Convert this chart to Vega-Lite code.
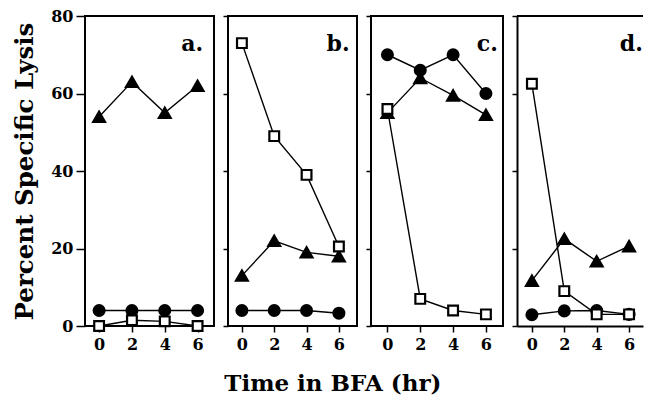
{
  "$schema": "https://vega.github.io/schema/vega-lite/v6.json",
  "padding": {"left": 11, "top": 7, "right": 0, "bottom": 5},
  "background": "white",
  "title": {"text": "Time in BFA (hr)", "orient": "bottom", "anchor": "middle", "font": "DejaVu Serif", "fontSize": 23, "fontWeight": "bold", "color": "black", "offset": 20, "dx": 5},
  "datasets": {
    "lysis": [
      {"panel": "a", "series": "tri", "t": 0, "v": 54}, {"panel": "a", "series": "tri", "t": 2, "v": 63}, {"panel": "a", "series": "tri", "t": 4, "v": 55}, {"panel": "a", "series": "tri", "t": 6, "v": 62},
      {"panel": "a", "series": "circ", "t": 0, "v": 4}, {"panel": "a", "series": "circ", "t": 2, "v": 4}, {"panel": "a", "series": "circ", "t": 4, "v": 4}, {"panel": "a", "series": "circ", "t": 6, "v": 4},
      {"panel": "a", "series": "sq", "t": 0, "v": 0}, {"panel": "a", "series": "sq", "t": 2, "v": 1.5}, {"panel": "a", "series": "sq", "t": 4, "v": 1.2}, {"panel": "a", "series": "sq", "t": 6, "v": 0},
      {"panel": "b", "series": "tri", "t": 0, "v": 13}, {"panel": "b", "series": "tri", "t": 2, "v": 22}, {"panel": "b", "series": "tri", "t": 4, "v": 19}, {"panel": "b", "series": "tri", "t": 6, "v": 18},
      {"panel": "b", "series": "circ", "t": 0, "v": 4}, {"panel": "b", "series": "circ", "t": 2, "v": 4}, {"panel": "b", "series": "circ", "t": 4, "v": 4}, {"panel": "b", "series": "circ", "t": 6, "v": 3.3},
      {"panel": "b", "series": "sq", "t": 0, "v": 73}, {"panel": "b", "series": "sq", "t": 2, "v": 49}, {"panel": "b", "series": "sq", "t": 4, "v": 39}, {"panel": "b", "series": "sq", "t": 6, "v": 20.5},
      {"panel": "c", "series": "tri", "t": 0, "v": 55}, {"panel": "c", "series": "tri", "t": 2, "v": 64}, {"panel": "c", "series": "tri", "t": 4, "v": 59.5}, {"panel": "c", "series": "tri", "t": 6, "v": 54.5},
      {"panel": "c", "series": "circ", "t": 0, "v": 70}, {"panel": "c", "series": "circ", "t": 2, "v": 66}, {"panel": "c", "series": "circ", "t": 4, "v": 70}, {"panel": "c", "series": "circ", "t": 6, "v": 60},
      {"panel": "c", "series": "sq", "t": 0, "v": 56}, {"panel": "c", "series": "sq", "t": 2, "v": 7}, {"panel": "c", "series": "sq", "t": 4, "v": 4}, {"panel": "c", "series": "sq", "t": 6, "v": 3},
      {"panel": "d", "series": "tri", "t": 0, "v": 11.7}, {"panel": "d", "series": "tri", "t": 2, "v": 22.5}, {"panel": "d", "series": "tri", "t": 4, "v": 16.7}, {"panel": "d", "series": "tri", "t": 6, "v": 20.6},
      {"panel": "d", "series": "circ", "t": 0, "v": 2.9}, {"panel": "d", "series": "circ", "t": 2, "v": 3.9}, {"panel": "d", "series": "circ", "t": 4, "v": 4}, {"panel": "d", "series": "circ", "t": 6, "v": 3},
      {"panel": "d", "series": "sq", "t": 0, "v": 62.5}, {"panel": "d", "series": "sq", "t": 2, "v": 9}, {"panel": "d", "series": "sq", "t": 4, "v": 3}, {"panel": "d", "series": "sq", "t": 6, "v": 3}
    ]
  },
  "spacing": 14,
  "bounds": "flush",
  "hconcat": [
    {
      "width": 129, "height": 310,
      "layer": [
        {"data": {"name": "lysis"}, "transform": [{"filter": "datum.panel == 'a'"}],
         "mark": {"type": "line", "color": "black", "strokeWidth": 1.4},
         "encoding": {
           "x": {"field": "t", "type": "quantitative", "scale": {"domain": [-0.86, 7.0], "nice": false, "zero": false}, "axis": {"values": [0, 2, 4, 6], "title": null, "domain": false, "tickSize": 6, "labelPadding": 4}},
           "y": {"field": "v", "type": "quantitative", "scale": {"domain": [0, 80], "nice": false}, "axis": {"values": [0, 20, 40, 60, 80], "title": "Percent Specific Lysis", "titleFont": "DejaVu Serif", "titleFontSize": 24.5, "titleFontWeight": "bold", "titleColor": "black", "titlePadding": 13, "domain": false, "tickSize": 9, "labelPadding": 3}},
           "detail": {"field": "series"}}},
        {"data": {"name": "lysis"}, "transform": [{"filter": "datum.panel == 'a'"}],
         "mark": {"type": "point", "filled": true, "stroke": "black", "strokeWidth": 2.2, "opacity": 1},
         "encoding": {
           "x": {"field": "t", "type": "quantitative"},
           "y": {"field": "v", "type": "quantitative"},
           "shape": {"field": "series", "scale": {"domain": ["tri", "circ", "sq"], "range": ["triangle-up", "circle", "square"]}, "legend": null},
           "fill": {"field": "series", "scale": {"domain": ["tri", "circ", "sq"], "range": ["black", "black", "white"]}, "legend": null},
           "size": {"field": "series", "scale": {"domain": ["tri", "circ", "sq"], "range": [140, 95, 175]}, "legend": null}}},
        {"data": {"values": [{"label": "a."}]},
         "mark": {"type": "text", "font": "DejaVu Serif", "fontSize": 22, "fontWeight": "bold", "align": "right", "baseline": "alphabetic", "color": "black"},
         "encoding": {"x": {"datum": 6.34}, "y": {"datum": 71}, "text": {"field": "label"}}}
      ]
    },
    {
      "width": 129, "height": 310,
      "layer": [
        {"data": {"name": "lysis"}, "transform": [{"filter": "datum.panel == 'b'"}],
         "mark": {"type": "line", "color": "black", "strokeWidth": 1.4},
         "encoding": {
           "x": {"field": "t", "type": "quantitative", "scale": {"domain": [-0.86, 7.12], "nice": false, "zero": false}, "axis": {"values": [0, 2, 4, 6], "title": null, "domain": false, "tickSize": 6, "labelPadding": 4}},
           "y": {"field": "v", "type": "quantitative", "scale": {"domain": [0, 80], "nice": false}, "axis": {"values": [0, 20, 40, 60, 80], "title": null, "labels": false, "domain": false, "tickSize": 5}},
           "detail": {"field": "series"}}},
        {"data": {"name": "lysis"}, "transform": [{"filter": "datum.panel == 'b'"}],
         "mark": {"type": "point", "filled": true, "stroke": "black", "strokeWidth": 2.2, "opacity": 1},
         "encoding": {
           "x": {"field": "t", "type": "quantitative"},
           "y": {"field": "v", "type": "quantitative"},
           "shape": {"field": "series", "scale": {"domain": ["tri", "circ", "sq"], "range": ["triangle-up", "circle", "square"]}, "legend": null},
           "fill": {"field": "series", "scale": {"domain": ["tri", "circ", "sq"], "range": ["black", "black", "white"]}, "legend": null},
           "size": {"field": "series", "scale": {"domain": ["tri", "circ", "sq"], "range": [140, 95, 175]}, "legend": null}}},
        {"data": {"values": [{"label": "b."}]},
         "mark": {"type": "text", "font": "DejaVu Serif", "fontSize": 22, "fontWeight": "bold", "align": "right", "baseline": "alphabetic", "color": "black"},
         "encoding": {"x": {"datum": 6.66}, "y": {"datum": 71}, "text": {"field": "label"}}}
      ]
    },
    {
      "width": 132, "height": 310,
      "layer": [
        {"data": {"name": "lysis"}, "transform": [{"filter": "datum.panel == 'c'"}],
         "mark": {"type": "line", "color": "black", "strokeWidth": 1.4},
         "encoding": {
           "x": {"field": "t", "type": "quantitative", "scale": {"domain": [-1.0, 7.04], "nice": false, "zero": false}, "axis": {"values": [0, 2, 4, 6], "title": null, "domain": false, "tickSize": 6, "labelPadding": 4}},
           "y": {"field": "v", "type": "quantitative", "scale": {"domain": [0, 80], "nice": false}, "axis": {"values": [0, 20, 40, 60, 80], "title": null, "labels": false, "domain": false, "tickSize": 5}},
           "detail": {"field": "series"}}},
        {"data": {"name": "lysis"}, "transform": [{"filter": "datum.panel == 'c'"}],
         "mark": {"type": "point", "filled": true, "stroke": "black", "strokeWidth": 2.2, "opacity": 1},
         "encoding": {
           "x": {"field": "t", "type": "quantitative"},
           "y": {"field": "v", "type": "quantitative"},
           "shape": {"field": "series", "scale": {"domain": ["tri", "circ", "sq"], "range": ["triangle-up", "circle", "square"]}, "legend": null},
           "fill": {"field": "series", "scale": {"domain": ["tri", "circ", "sq"], "range": ["black", "black", "white"]}, "legend": null},
           "size": {"field": "series", "scale": {"domain": ["tri", "circ", "sq"], "range": [140, 95, 175]}, "legend": null}}},
        {"data": {"values": [{"label": "c."}]},
         "mark": {"type": "text", "font": "DejaVu Serif", "fontSize": 22, "fontWeight": "bold", "align": "right", "baseline": "alphabetic", "color": "black"},
         "encoding": {"x": {"datum": 6.73}, "y": {"datum": 71}, "text": {"field": "label"}}}
      ]
    },
    {
      "width": 126, "height": 310,
      "view": {"stroke": null},
      "layer": [
        {"data": {"name": "lysis"}, "transform": [{"filter": "datum.panel == 'd'"}],
         "mark": {"type": "line", "color": "black", "strokeWidth": 1.4},
         "encoding": {
           "x": {"field": "t", "type": "quantitative", "scale": {"domain": [-0.92, 6.86], "nice": false, "zero": false}, "axis": {"values": [0, 2, 4, 6], "title": null, "domain": true, "domainWidth": 2, "domainColor": "black", "tickSize": 6, "labelPadding": 4}},
           "y": {"field": "v", "type": "quantitative", "scale": {"domain": [0, 80], "nice": false}, "axis": {"values": [0, 20, 40, 60, 80], "title": null, "labels": false, "domain": true, "domainWidth": 2, "domainColor": "black", "tickSize": 5}},
           "detail": {"field": "series"}}},
        {"data": {"values": [{"top": 80}]},
         "mark": {"type": "rule", "color": "black", "strokeWidth": 2},
         "encoding": {"y": {"field": "top", "type": "quantitative"}}},
        {"data": {"name": "lysis"}, "transform": [{"filter": "datum.panel == 'd'"}],
         "mark": {"type": "point", "filled": true, "stroke": "black", "strokeWidth": 2.2, "opacity": 1},
         "encoding": {
           "x": {"field": "t", "type": "quantitative"},
           "y": {"field": "v", "type": "quantitative"},
           "shape": {"field": "series", "scale": {"domain": ["tri", "circ", "sq"], "range": ["triangle-up", "circle", "square"]}, "legend": null},
           "fill": {"field": "series", "scale": {"domain": ["tri", "circ", "sq"], "range": ["black", "black", "white"]}, "legend": null},
           "size": {"field": "series", "scale": {"domain": ["tri", "circ", "sq"], "range": [140, 95, 175]}, "legend": null}}},
        {"data": {"values": [{"label": "d."}]},
         "mark": {"type": "text", "font": "DejaVu Serif", "fontSize": 22, "fontWeight": "bold", "align": "right", "baseline": "alphabetic", "color": "black"},
         "encoding": {"x": {"datum": 6.85}, "y": {"datum": 71}, "text": {"field": "label"}}}
      ]
    }
  ],
  "config": {
    "view": {"stroke": "black", "strokeWidth": 2},
    "axis": {"labelFont": "DejaVu Serif", "labelFontWeight": "bold", "labelFontSize": 16, "labelColor": "black", "tickColor": "black", "tickWidth": 1.5, "grid": false, "labelOverlap": false}
  }
}
